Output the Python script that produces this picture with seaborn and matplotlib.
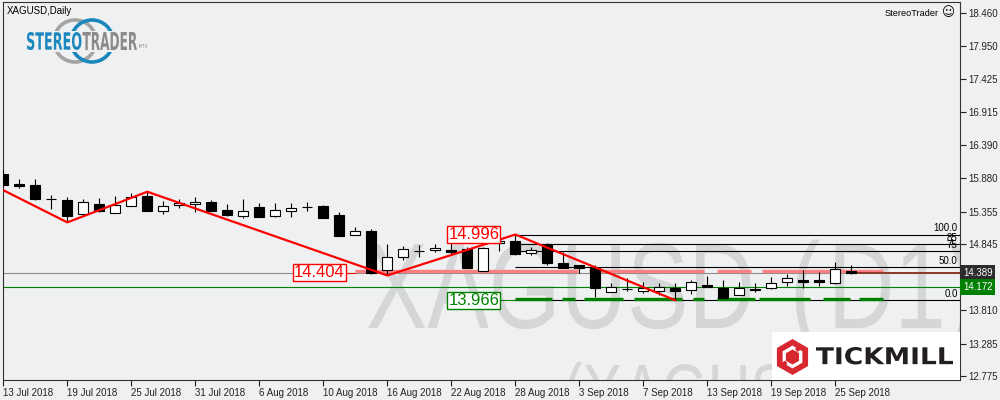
"""
XAGUSD daily candles, MT4 look: zigzag, fibo levels, support/resistance bands.
"""

import numpy as np
import pandas as pd
import matplotlib
matplotlib.use("Agg")
import matplotlib.pyplot as plt
import matplotlib.transforms as mtransforms
from matplotlib.patches import Rectangle, RegularPolygon, PathPatch, Circle
from matplotlib.textpath import TextPath
from matplotlib.font_manager import FontProperties
import seaborn as sns

# ── Data ─────────────────────────────────────────────────────────────────
opens = [15.94, 15.78, 15.77, 15.55, 15.54, 15.31, 15.48, 15.33, 15.45, 15.60,
         15.37, 15.46, 15.47, 15.50, 15.38, 15.29, 15.42, 15.28, 15.36, 15.43,
         15.44, 15.30, 14.99, 15.05, 14.44, 14.64, 14.745, 14.75, 14.753, 14.763,
         14.43, 14.857, 14.894, 14.70, 14.842, 14.555, 14.518, 14.466, 14.09, 14.145,
         14.111, 14.116, 14.163, 14.127, 14.205, 14.153, 14.043, 14.14, 14.153, 14.247,
         14.278, 14.283, 14.231, 14.429]
highs = [16.00, 15.87, 15.865, 15.614, 15.588, 15.552, 15.572, 15.599, 15.640, 15.666,
         15.520, 15.546, 15.588, 15.536, 15.468, 15.552, 15.484, 15.484, 15.484, 15.499,
         15.458, 15.343, 15.118, 15.076, 14.847, 14.816, 14.831, 14.847, 14.884, 14.805,
         14.805, 14.988, 14.996, 14.805, 14.868, 14.727, 14.518, 14.518, 14.231, 14.309,
         14.257, 14.241, 14.231, 14.283, 14.345, 14.283, 14.247, 14.231, 14.335, 14.372,
         14.440, 14.414, 14.570, 14.518]
lows = [15.76, 15.73, 15.536, 15.390, 15.186, 15.301, 15.353, 15.327, 15.447, 15.369,
        15.317, 15.405, 15.353, 15.369, 15.291, 15.249, 15.275, 15.275, 15.275, 15.364,
        15.259, 14.977, 14.988, 14.37, 14.355, 14.596, 14.638, 14.716, 14.690, 14.476,
        14.429, 14.743, 14.675, 14.675, 14.518, 14.466, 14.398, 14.022, 14.090, 14.116,
        14.085, 14.048, 13.966, 14.064, 14.168, 14.007, 14.043, 14.100, 14.137, 14.189,
        14.153, 14.189, 14.215, 14.372]
closes = [15.77, 15.76, 15.552, 15.545, 15.285, 15.499, 15.364, 15.458, 15.588, 15.369,
          15.442, 15.494, 15.499, 15.369, 15.301, 15.364, 15.275, 15.379, 15.416, 15.426,
          15.259, 14.977, 15.050, 14.388, 14.638, 14.763, 14.740, 14.789, 14.727, 14.476,
          14.779, 14.894, 14.690, 14.753, 14.544, 14.466, 14.466, 14.153, 14.179, 14.140,
          14.153, 14.168, 14.116, 14.247, 14.179, 14.007, 14.163, 14.134, 14.231, 14.309,
          14.247, 14.247, 14.455, 14.389]

date_labels = ["13 Jul 2018", "19 Jul 2018", "25 Jul 2018", "31 Jul 2018", "6 Aug 2018",
               "10 Aug 2018", "16 Aug 2018", "22 Aug 2018", "28 Aug 2018", "3 Sep 2018",
               "7 Sep 2018", "13 Sep 2018", "19 Sep 2018", "25 Sep 2018"]
price_ticks = [18.460, 17.950, 17.425, 16.915, 16.390, 15.880, 15.355, 14.845,
               13.810, 13.285, 12.775]
price_labels = ["18.460", "17.950", "17.425", "16.915", "16.390", "15.880", "15.355",
                "14.845", "13.810", "13.285", "12.775"]

zz_bars = [0, 4, 9, 24, 32, 42]
zz_prices = [15.69, 15.186, 15.666, 14.355, 14.996, 13.966]

fib_low, fib_high = 13.966, 14.996
fib_levels = [0.0, 0.5, 0.75, 0.85, 1.0]
fib_texts = ["0.0", "50.0", "75", "85", "100.0"]

bid_price = 14.389
green_price = 14.172
resist_price = 14.43
support_price = 13.985
resist_segments = [(22.0, 35.9), (36.6, 43.8), (44.6, 46.7), (47.4, 55.0)]
support_segments = [(32.0, 34.3), (34.9, 35.7), (36.3, 38.7), (39.4, 42.4), (43.1, 43.8),
                    (44.6, 47.0), (47.2, 50.4), (51.2, 52.9), (53.5, 55.0)]

# ── Layout ───────────────────────────────────────────────────────────────
W, H = 1000, 400
BG = "#eff0f2"
X_MIN, X_MAX = -0.02, 59.79
Y_MIN, Y_MAX = 12.718, 18.637

sns.set_theme(style="ticks", rc={
    "axes.facecolor": BG, "figure.facecolor": BG,
    "axes.edgecolor": "#333333", "axes.linewidth": 0.8,
})
plt.rcParams["font.family"] = ["Liberation Sans", "DejaVu Sans"]

fig = plt.figure(figsize=(W / 100, H / 100), dpi=100)
ax = fig.add_axes([3 / W, 20 / H, 957 / W, 378 / H])
ax.set_xlim(X_MIN, X_MAX)
ax.set_ylim(Y_MIN, Y_MAX)
PIX = mtransforms.IdentityTransform()


def path_text(s, box, color, weight="normal", family="DejaVu Sans", zorder=1):
    """Draw text as a path stretched into box (x0, y0, x1, y1) in image pixels."""
    tp = TextPath((0, 0), s, size=100, prop=FontProperties(family=family, weight=weight))
    ext = tp.get_extents()
    x0, y0, x1, y1 = box
    tr = (mtransforms.Affine2D().translate(-ext.x0, -ext.y0)
          .scale((x1 - x0) / ext.width, (y1 - y0) / ext.height)
          .translate(x0, H - y1))
    fig.add_artist(PathPatch(tp, transform=tr, fc=color, ec="none", zorder=zorder))


def watermark(s, x0, base_y, em, stretch, color="#d5d6d8"):
    tp = TextPath((0, 0), s, size=em, prop=FontProperties(family="Liberation Sans"))
    tr = mtransforms.Affine2D().scale(stretch, 1).translate(x0, H - base_y)
    ax.add_artist(PathPatch(tp, transform=tr, fc=color, ec="none", zorder=0.5))


# ── Watermark ────────────────────────────────────────────────────────────
watermark("XAGUSD", 366, 328, 122, 0.755)
watermark("(", 790, 328, 122, 0.755)
watermark("D1)", 828, 328, 122, 0.755)
watermark("(XAGUSD, Daily)", 563, 420, 80, 0.74)

# ── Horizontal levels ───────────────────────────────────────────────────
ax.axhline(bid_price, color="#8c8c8c", lw=0.8, zorder=1.2)
ax.axhline(green_price, color="#008000", lw=0.8, zorder=1.2)

n = len(opens)
for lvl in fib_levels:
    ax.hlines(fib_low + lvl * (fib_high - fib_low), zz_bars[4], X_MAX,
              color="black", lw=0.8, zorder=1.5)
for lvl, t in zip(fib_levels, fib_texts):
    ax.text(X_MAX - 0.15, fib_low + lvl * (fib_high - fib_low) + 0.02, t,
            ha="right", va="bottom", fontsize=7, color="black", zorder=6)

for a, b in resist_segments:
    ax.hlines(resist_price, a, b, color="#ff8080", lw=2.4, zorder=2)
for a, b in support_segments:
    ax.hlines(support_price, a, b, color="#008000", lw=2.4, zorder=2)

ax.hlines(bid_price + 0.006, n - 1, X_MAX, color="#8b3a2a", lw=1.4, zorder=2.2)

# ── Candles ──────────────────────────────────────────────────────────────
x = np.arange(n)
o, hi, lo, c = (np.array(v) for v in (opens, highs, lows, closes))
up = c >= o
body_lo = np.minimum(o, c)
body_h = np.abs(c - o)
ax.vlines(x, lo, hi, color="black", lw=0.8, zorder=3)
ax.bar(x[up], body_h[up], 0.62, bottom=body_lo[up], color="white",
       edgecolor="black", lw=0.8, zorder=4)
ax.bar(x[~up], body_h[~up], 0.62, bottom=body_lo[~up], color="black",
       edgecolor="black", lw=0.8, zorder=4)

# ── ZigZag ───────────────────────────────────────────────────────────────
zz = pd.DataFrame({"bar": zz_bars, "price": zz_prices})
sns.lineplot(data=zz, x="bar", y="price", color="red", lw=1.6, sort=False,
             estimator=None, ax=ax, zorder=5)

# ── Price boxes ──────────────────────────────────────────────────────────
box_kw = dict(ha="right", va="center", fontsize=12, zorder=7)
ax.text(resist_segments[0][0] - 0.65, 14.404, "14.404", color="red",
        bbox=dict(boxstyle="square,pad=0.06", fc="white", ec="red", lw=1), **box_kw)
ax.plot([resist_segments[0][0] - 0.6, resist_segments[0][0]], [14.40, 14.40],
        color="red", lw=0.8, zorder=6)
ax.text(zz_bars[4] - 1.0, 14.996, "14.996", color="red",
        bbox=dict(boxstyle="square,pad=0.06", fc="white", ec="red", lw=1), **box_kw)
ax.text(zz_bars[4] - 1.0, 13.966, "13.966", color="green",
        bbox=dict(boxstyle="square,pad=0.06", fc="white", ec="green", lw=1), **box_kw)
ax.plot([zz_bars[4] - 0.95, zz_bars[4]], [13.97, 13.97], color="green", lw=0.8, zorder=6)

# right axis price labels
yx = mtransforms.blended_transform_factory(ax.transAxes, ax.transData)
ax.text(1.003, bid_price, "14.389", transform=yx, ha="left", va="center", fontsize=7,
        color="white", clip_on=False, zorder=8,
        bbox=dict(boxstyle="square,pad=0.3", fc="#2b2b2b", ec="none"))
ax.text(1.003, green_price, "14.172", transform=yx, ha="left", va="center", fontsize=7,
        color="white", clip_on=False, zorder=8,
        bbox=dict(boxstyle="square,pad=0.3", fc="#008000", ec="none"))

# ── Axes ─────────────────────────────────────────────────────────────────
ax.set_xlabel("")
ax.set_ylabel("")
ax.yaxis.tick_right()
ax.set_yticks(price_ticks)
ax.set_yticklabels(price_labels)
ax.set_xticks(range(0, n, 4))
ax.set_xticklabels(date_labels)
for lab in ax.get_xticklabels():
    lab.set_ha("left")
ax.tick_params(axis="both", labelsize=7, colors="#222222", length=4, width=0.8,
               direction="out", pad=2)
for sp in ax.spines.values():
    sp.set_visible(True)
    sp.set_color("#333333")
    sp.set_linewidth(0.8)

# ── Header texts and logos ───────────────────────────────────────────────
fig.text(7 / W, 1 - 11 / H, "XAGUSD,Daily", fontsize=7, va="center", color="black")
fig.text(939 / W, 1 - 13 / H, "StereoTrader", fontsize=6.6, ha="right", va="center",
         color="black")
fig.text(942 / W, 1 - 13 / H, "\u263a", fontsize=9, ha="left", va="center",
         family="DejaVu Sans", color="black")

# StereoTrader logo
fig.add_artist(Circle((75, H - 41), 21, fill=False, ec="#a3a3a3", lw=2.6, transform=PIX))
fig.add_artist(Circle((92, H - 41), 21, fill=False, ec="#1b87bd", lw=2.6, transform=PIX))
fig.add_artist(Rectangle((24, H - 52), 130, 21, fc=BG, ec="none", transform=PIX))
path_text("STEREO", (27, 32, 81.5, 50), "#1b87bd", weight="bold")
path_text("TRADER", (82.5, 32, 137, 50), "#8a8a8a", weight="bold")
path_text("MT4", (139, 44, 147, 48), "#8a8a8a")

# Tickmill logo
fig.add_artist(Rectangle((772, H - 380), 188, 48, fc="white", ec="none", transform=PIX,
                         zorder=9))
fig.add_artist(RegularPolygon((792.5, H - 357), 6, radius=18, orientation=0,
                              fc="#d7282f", ec="none", transform=PIX, zorder=10))
fig.add_artist(RegularPolygon((792.5, H - 357), 6, radius=9.5, orientation=0,
                              fc="none", ec="white", lw=2.4, transform=PIX, zorder=11))
fig.add_artist(Rectangle((797, H - 352), 4, 4, angle=30, fc="#d7282f", ec="none",
                         transform=PIX, zorder=12))
fig.add_artist(Rectangle((784, H - 366), 4, 4, angle=30, fc="#d7282f", ec="none",
                         transform=PIX, zorder=12))
path_text("TICKMILL", (816, 347, 953, 364.5), "#231f20", weight="bold", zorder=12)

fig.savefig("out.png", dpi=100, facecolor=BG)
